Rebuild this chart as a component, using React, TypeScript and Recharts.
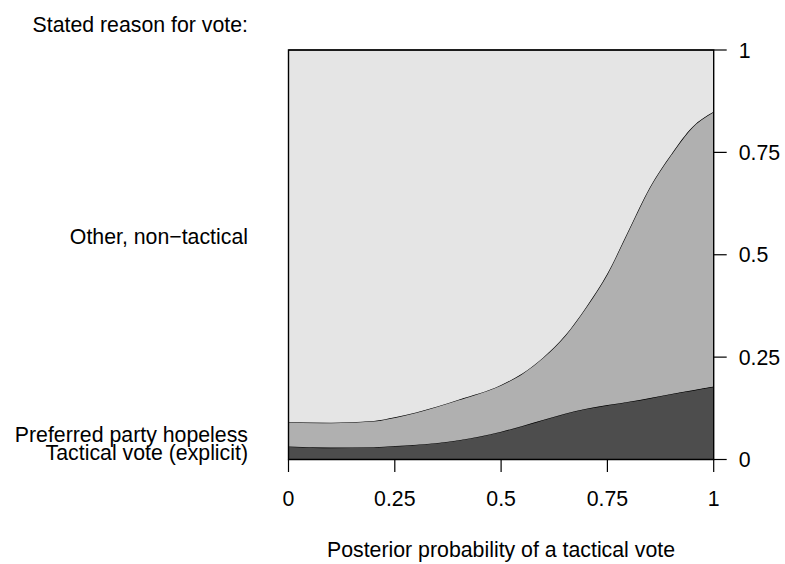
import { Area, AreaChart, ReferenceArea, XAxis, YAxis } from 'recharts';

const probs = [0, 0.1, 0.2, 0.25, 0.3, 0.4, 0.5, 0.55, 0.6, 0.65, 0.7, 0.75, 0.8, 0.85, 0.9, 0.95, 1];
const tactical = [0.032, 0.029, 0.03, 0.033, 0.036, 0.047, 0.068, 0.082, 0.097, 0.112, 0.124, 0.133, 0.141, 0.15, 0.16, 0.169, 0.178];
const hopeless = [0.059, 0.061, 0.064, 0.07, 0.079, 0.099, 0.114, 0.128, 0.153, 0.19, 0.248, 0.321, 0.419, 0.515, 0.585, 0.643, 0.671];
const other = [0.909, 0.91, 0.906, 0.897, 0.885, 0.854, 0.818, 0.79, 0.75, 0.698, 0.628, 0.546, 0.44, 0.335, 0.255, 0.188, 0.151];

const xTicks = [0, 0.25, 0.5, 0.75, 1];
const yTicks = [0, 0.25, 0.5, 0.75, 1];

const data = probs.map((p, i) => ({ p, tactical: tactical[i], hopeless: hopeless[i], other: other[i] }));

const FONT = '"Liberation Sans", Arial, Helvetica, sans-serif';
const FS = 21.3;

function XTick({ x, y, payload }: any) {
    return (
        <text x={x} y={y + 34} textAnchor="middle" fontSize={FS} fill="#000" fontFamily={FONT}>
            {payload.value}
        </text>
    );
}

function YTick({ x, y, payload }: any) {
    return (
        <text x={x + 12} y={y + 7.6} textAnchor="start" fontSize={FS} fill="#000" fontFamily={FONT}>
            {payload.value}
        </text>
    );
}

export default function App() {
    return (
        <div style={{ position: 'absolute', left: 0, top: 0, width: 785, height: 564, background: '#fff' }}>
            <AreaChart
                width={785}
                height={564}
                data={data}
                margin={{ top: 50, left: 288.5, right: 0, bottom: 44.5 }}
            >
                <XAxis
                    dataKey="p"
                    type="number"
                    domain={[0, 1]}
                    ticks={xTicks}
                    tick={<XTick />}
                    tickSize={12.5}
                    tickMargin={0}
                    height={60}
                    stroke="#000"
                    axisLine={false}
                    tickLine={{ stroke: '#000', strokeWidth: 1.2 }}
                />
                <YAxis
                    orientation="right"
                    type="number"
                    domain={[0, 1]}
                    ticks={yTicks}
                    tick={<YTick />}
                    tickSize={13}
                    tickMargin={0}
                    width={71.3}
                    stroke="#000"
                    axisLine={false}
                    tickLine={{ stroke: '#000', strokeWidth: 1.2 }}
                />
                <Area
                    type="monotone"
                    dataKey="tactical"
                    stackId="a"
                    fill="#4d4d4d"
                    fillOpacity={1}
                    stroke="#000"
                    strokeWidth={1.2}
                    isAnimationActive={false}
                />
                <Area
                    type="monotone"
                    dataKey="hopeless"
                    stackId="a"
                    fill="#b0b0b0"
                    fillOpacity={1}
                    stroke="#000"
                    strokeWidth={1.2}
                    isAnimationActive={false}
                />
                <Area
                    type="monotone"
                    dataKey="other"
                    stackId="a"
                    fill="#e5e5e5"
                    fillOpacity={1}
                    stroke="#000"
                    strokeWidth={1.2}
                    isAnimationActive={false}
                />
                <ReferenceArea x1={0} x2={1} y1={0} y2={1} fill="none" stroke="#000" strokeWidth={1.4} fillOpacity={0} />
            </AreaChart>
            <div style={{ position: 'absolute', left: 0, top: 0, width: 785, height: 564, pointerEvents: 'none' }}>
                <svg width={785} height={564} style={{ fontFamily: FONT }}>
                    <text x={248} y={32.3} textAnchor="end" fontSize={FS}>Stated reason for vote:</text>
                    <text x={248} y={244} textAnchor="end" fontSize={FS}>Other, non−tactical</text>
                    <text x={248} y={441.7} textAnchor="end" fontSize={FS}>Preferred party hopeless</text>
                    <text x={248} y={460} textAnchor="end" fontSize={FS}>Tactical vote (explicit)</text>
                    <text x={501} y={557.3} textAnchor="middle" fontSize={FS}>Posterior probability of a tactical vote</text>
                </svg>
            </div>
        </div>
    );
}
